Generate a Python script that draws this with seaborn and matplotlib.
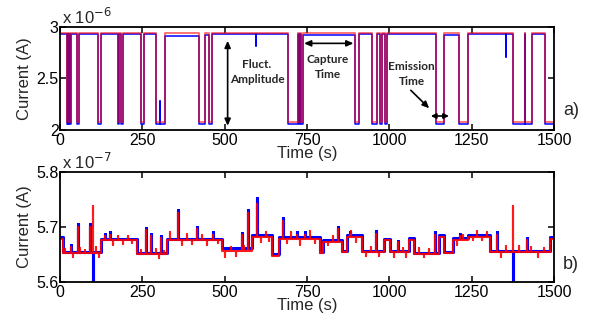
import matplotlib
matplotlib.use('Agg')
import matplotlib.pyplot as plt
from matplotlib.ticker import FuncFormatter
import seaborn as sns
import pandas as pd
import numpy as np

# ---- panel a: two-level RTN (A), low-state intervals in seconds
low_start = [20, 25, 30, 53, 116, 177, 184, 246, 291, 423, 452, 691, 726, 732,
             896, 946, 972, 988, 1143, 1212, 1374, 1413, 1473]
low_end = [23, 28, 33, 58, 124, 180, 192, 255, 319, 440, 462, 722, 729, 738,
           909, 963, 978, 992, 1165, 1238, 1411, 1432, 1500]
red_high = 2.945e-6
red_low = 2.075e-6
# measured trace: high level before each low interval
blue_high = [2.935, 2.935, 2.935, 2.935, 2.935, 2.935, 2.935, 2.93, 2.93, 2.915,
             2.925, 2.93, 2.93, 2.93, 2.925, 2.935, 2.935, 2.935, 2.935, 2.925,
             2.93, 2.935, 2.935]
blue_low = 2.055
blue_spike_t = [305, 595, 1354]
blue_spike_v = [2.28, 2.81, 2.71]

# ---- panel b: slowly switching trace (units of 1e-7 A)
b_edges = [0, 8, 126, 233, 324, 491, 583, 643, 665, 789, 800, 855, 870, 916,
           985, 1003, 1060, 1075, 1150, 1165, 1194, 1240, 1306, 1488, 1500]
b_blue = [5.682, 5.655, 5.679, 5.652, 5.679, 5.661, 5.685, 5.651, 5.681, 5.655,
          5.677, 5.657, 5.686, 5.657, 5.679, 5.657, 5.680, 5.653, 5.685, 5.655,
          5.680, 5.686, 5.657, 5.682]
b_red = [5.679, 5.652, 5.676, 5.650, 5.676, 5.657, 5.681, 5.648, 5.678, 5.652,
         5.673, 5.654, 5.682, 5.654, 5.676, 5.654, 5.676, 5.650, 5.681, 5.652,
         5.677, 5.682, 5.654, 5.679]
b_spike_t = [32, 54, 91, 101, 137, 152, 260, 275, 306, 357, 415, 465, 552, 572,
             599, 676, 720, 745, 843, 880, 959, 1025, 1139, 1215, 1326, 1376, 1418]
b_blue_spike = [5.667, 5.705, 5.705, 5.600, 5.687, 5.690, 5.698, 5.687, 5.684,
                5.731, 5.700, 5.690, 5.689, 5.731, 5.752, 5.716, 5.690, 5.690,
                5.700, 5.690, 5.692, 5.675, 5.690, 5.688, 5.690, 5.600, 5.680]
b_red_spike = [5.664, 5.700, 5.700, 5.738, 5.684, 5.686, 5.694, 5.683, 5.680,
               5.726, 5.696, 5.686, 5.685, 5.726, 5.742, 5.711, 5.686, 5.686,
               5.696, 5.686, 5.688, 5.672, 5.686, 5.684, 5.686, 5.738, 5.676]
# small fluctuations on the red trace
fuzz_t = [15, 40, 62, 75, 110, 118, 160, 175, 190, 205, 220, 245, 290, 300, 315,
          335, 370, 385, 400, 430, 445, 480, 500, 520, 535, 560, 610, 625, 635,
          690, 700, 730, 760, 775, 815, 830, 885, 900, 930, 945, 970, 1015, 1040,
          1050, 1090, 1105, 1120, 1205, 1225, 1255, 1265, 1280, 1295, 1340, 1355,
          1395, 1430, 1450, 1470]
fuzz_v = [5.660, 5.645, 5.662, 5.658, 5.663, 5.645, 5.668, 5.684, 5.669, 5.683,
          5.670, 5.658, 5.660, 5.643, 5.656, 5.690, 5.668, 5.688, 5.669, 5.685,
          5.668, 5.670, 5.645, 5.664, 5.648, 5.666, 5.672, 5.690, 5.674, 5.670,
          5.690, 5.668, 5.692, 5.670, 5.668, 5.684, 5.693, 5.672, 5.648, 5.664,
          5.648, 5.645, 5.662, 5.646, 5.662, 5.645, 5.660, 5.668, 5.686, 5.676,
          5.692, 5.676, 5.690, 5.646, 5.665, 5.666, 5.664, 5.646, 5.662]


def steps(edges, levels):
    x, y = [], []
    for i, lv in enumerate(levels):
        x += [edges[i], edges[i + 1]]
        y += [lv, lv]
    return x, y


def rtn(starts, ends, highs, low):
    edges, levels = [0], []
    for i, (s, e) in enumerate(zip(starts, ends)):
        edges += [s, e]
        levels += [highs[i], low]
    return steps(edges, levels)


def add_spikes(x, y, ts, vs):
    x, y = list(x), list(y)
    for t, v in zip(ts, vs):
        idx = int(np.searchsorted(x, t))
        base = y[idx - 1]
        x[idx:idx] = [t, t, t]
        y[idx:idx] = [base, v, base]
    return x, y


sns.set_style('ticks')
plt.rcParams['font.family'] = ['Liberation Sans', 'DejaVu Sans']

fig = plt.figure(figsize=(5.97, 3.2), dpi=100)
ax1 = fig.add_axes([0.1005, 0.594, 0.8275, 0.322])
ax2 = fig.add_axes([0.1005, 0.119, 0.8275, 0.3435])

# panel a
bx, by = rtn(low_start, low_end, [v * 1e-6 for v in blue_high], blue_low * 1e-6)
bx, by = add_spikes(bx, by, blue_spike_t, [v * 1e-6 for v in blue_spike_v])
rx, ry = rtn(low_start, low_end, [red_high] * len(low_start), red_low)
sns.lineplot(x=bx, y=by, ax=ax1, color='#0000ff', lw=1.1, estimator=None, sort=False)
sns.lineplot(x=rx, y=ry, ax=ax1, color='#ff0000', lw=1.4, alpha=0.55, estimator=None, sort=False)

# panel b
bx2, by2 = steps(b_edges, [v * 1e-7 for v in b_blue])
bx2, by2 = add_spikes(bx2, by2, b_spike_t, [v * 1e-7 for v in b_blue_spike])
rx2, ry2 = steps(b_edges, [v * 1e-7 for v in b_red])
rx2, ry2 = add_spikes(rx2, ry2, b_spike_t, [v * 1e-7 for v in b_red_spike])
rx2, ry2 = add_spikes(rx2, ry2, fuzz_t, [v * 1e-7 for v in fuzz_v])
sns.lineplot(x=bx2, y=by2, ax=ax2, color='#0000ff', lw=2.2, estimator=None, sort=False)
sns.lineplot(x=rx2, y=ry2, ax=ax2, color='#ff0000', lw=1.5, alpha=0.9, estimator=None, sort=False)

for ax, lim, ticks, scale, exp in [(ax1, (2e-6, 3e-6), [2e-6, 2.5e-6, 3e-6], 1e-6, '-6'),
                                   (ax2, (5.6e-7, 5.8e-7), [5.6e-7, 5.7e-7, 5.8e-7], 1e-7, '-7')]:
    ax.set_xlim(0, 1500)
    ax.set_ylim(*lim)
    ax.set_xticks([0, 250, 500, 750, 1000, 1250, 1500])
    ax.set_yticks(ticks)
    ax.yaxis.set_major_formatter(FuncFormatter(lambda v, p, s=scale: f'{v / s:g}'))
    ax.tick_params(direction='in', top=True, right=True, length=4, width=1.1,
                   labelsize=11.5, pad=2, colors='black')
    ax.tick_params(axis='y', pad=1)
    for sp in ax.spines.values():
        sp.set_linewidth(1.3)
        sp.set_color('black')
    ax.set_xlabel('Time (s)', fontsize=12, labelpad=-1)
    ax.set_ylabel('Current (A)', fontsize=12, labelpad=3)
    ax.text(0.005, 1.0, r'x 10$^{' + exp + '}$', transform=ax.transAxes,
            fontsize=12, ha='left', va='bottom')

# annotations on panel a
arrow2 = dict(arrowstyle='<|-|>,head_length=0.4,head_width=0.18', color='black', lw=1.2,
              shrinkA=0, shrinkB=0)
ax1.annotate('', xy=(509, 2.04e-6), xytext=(509, 2.865e-6), arrowprops=arrow2)
ax1.annotate('', xy=(741, 2.84e-6), xytext=(891, 2.84e-6), arrowprops=arrow2)
ax1.annotate('', xy=(1126, 2.135e-6), xytext=(1181, 2.135e-6),
             arrowprops=dict(arrowstyle='<|-|>,head_length=0.3,head_width=0.15',
                             color='black', lw=1.2, shrinkA=0, shrinkB=0))
ax1.annotate('', xy=(1121, 2.21e-6), xytext=(1065, 2.385e-6),
             arrowprops=dict(arrowstyle='-|>,head_length=0.4,head_width=0.18',
                             color='black', lw=1.2, shrinkA=0, shrinkB=0))
note = dict(fontsize=8.5, fontweight='bold', family=['Lato', 'DejaVu Sans'],
            ha='center', va='center', linespacing=1.45)
ax1.text(598, 2.56e-6, 'Fluct.\nAmplitude', **note)
ax1.text(814, 2.615e-6, 'Capture\nTime', **note)
ax1.text(1068, 2.54e-6, 'Emission\nTime', **note)

fig.text(0.943, 0.656, 'a)', fontsize=13, va='center', ha='left')
fig.text(0.943, 0.172, 'b)', fontsize=13, va='center', ha='left')

fig.savefig('out.png', dpi=100, facecolor='white')
